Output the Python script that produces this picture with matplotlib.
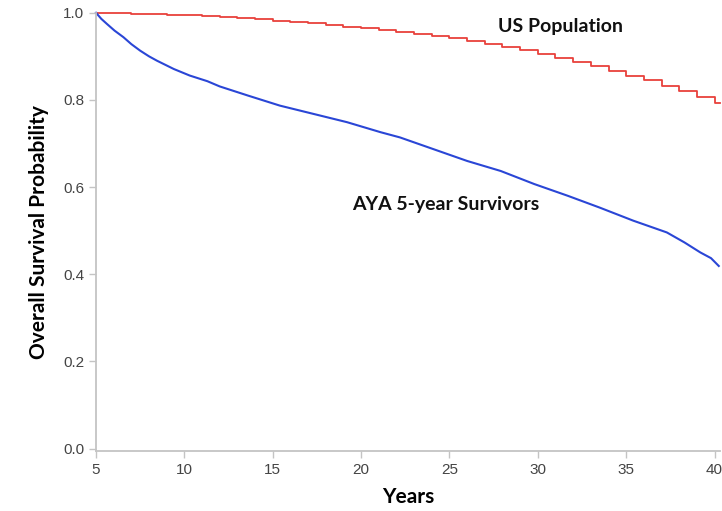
import matplotlib
matplotlib.use("Agg")
import matplotlib.pyplot as plt

# US population expected survival, yearly steps (value holds from that year on)
us_years = [5, 6, 7, 8, 9, 10, 11, 12, 13, 14, 15, 16, 17, 18, 19, 20, 21, 22,
            23, 24, 25, 26, 27, 28, 29, 30, 31, 32, 33, 34, 35, 36, 37, 38, 39, 40, 40.3]
us_surv = [1.000, 0.999, 0.998, 0.997, 0.996, 0.994, 0.992, 0.990, 0.988, 0.985,
           0.982, 0.979, 0.976, 0.972, 0.968, 0.964, 0.960, 0.956, 0.952, 0.947,
           0.942, 0.936, 0.929, 0.922, 0.914, 0.906, 0.897, 0.887, 0.877, 0.867,
           0.856, 0.845, 0.833, 0.821, 0.807, 0.793, 0.793]

# AYA 5-year survivors (KM curve)
aya_years = [5.0, 5.3, 5.6, 6.05, 6.55, 7.0, 7.5, 8.0, 8.45, 9.4, 10.3, 11.3, 12.0,
             13.6, 15.4, 17.3, 19.2, 21.1, 22.2, 24.1, 26.0, 27.9, 29.8, 31.7,
             33.5, 35.4, 37.3, 38.3, 39.2, 39.8, 40.24]
aya_surv = [1.000, 0.986, 0.975, 0.959, 0.944, 0.928, 0.913, 0.900, 0.890, 0.871,
            0.856, 0.843, 0.831, 0.810, 0.787, 0.768, 0.749, 0.726, 0.714, 0.687,
            0.660, 0.637, 0.607, 0.580, 0.553, 0.523, 0.496, 0.473, 0.450, 0.437,
            0.419]

x_ticks = [5, 10, 15, 20, 25, 30, 35, 40]
y_ticks = [0.0, 0.2, 0.4, 0.6, 0.8, 1.0]

fig = plt.figure(figsize=(7.22, 5.11), dpi=100)
ax = fig.add_axes([0.133, 0.117, 0.864, 0.858])

ax.step(us_years, us_surv, where='post', color='#e8413c', linewidth=1.3, clip_on=False)
ax.plot(aya_years, aya_surv, color='#2a46d6', linewidth=1.5, clip_on=False)

ax.text(31.3, 0.968, 'US Population', fontsize=14, fontweight='bold',
        family='Lato', ha='center', va='center', color='#111111')
ax.text(24.8, 0.559, 'AYA 5-year Survivors', fontsize=14, fontweight='bold',
        family='Lato', ha='center', va='center', color='#111111')

ax.set_xlim(5, 40.3)
ax.set_ylim(-0.006, 1.0)
ax.set_xticks(x_ticks)
ax.set_yticks(y_ticks)
ax.set_yticklabels([f'{v:.1f}' for v in y_ticks])
for lbl in ax.get_xticklabels() + ax.get_yticklabels():
    lbl.set_family('Liberation Sans')

ax.set_xlabel('Years', fontsize=15, fontweight='bold', family='Lato', labelpad=7)
ax.set_ylabel('Overall Survival Probability', fontsize=15, fontweight='bold',
              family='Lato', labelpad=10)

for side in ['top', 'right']:
    ax.spines[side].set_visible(False)
for side in ['left', 'bottom']:
    ax.spines[side].set_color('#c4c4c4')
    ax.spines[side].set_linewidth(1.3)
ax.tick_params(axis='both', colors='#c4c4c4', labelcolor='#444444',
               labelsize=11, length=5, width=1.0)

fig.savefig('out.png', dpi=100)
